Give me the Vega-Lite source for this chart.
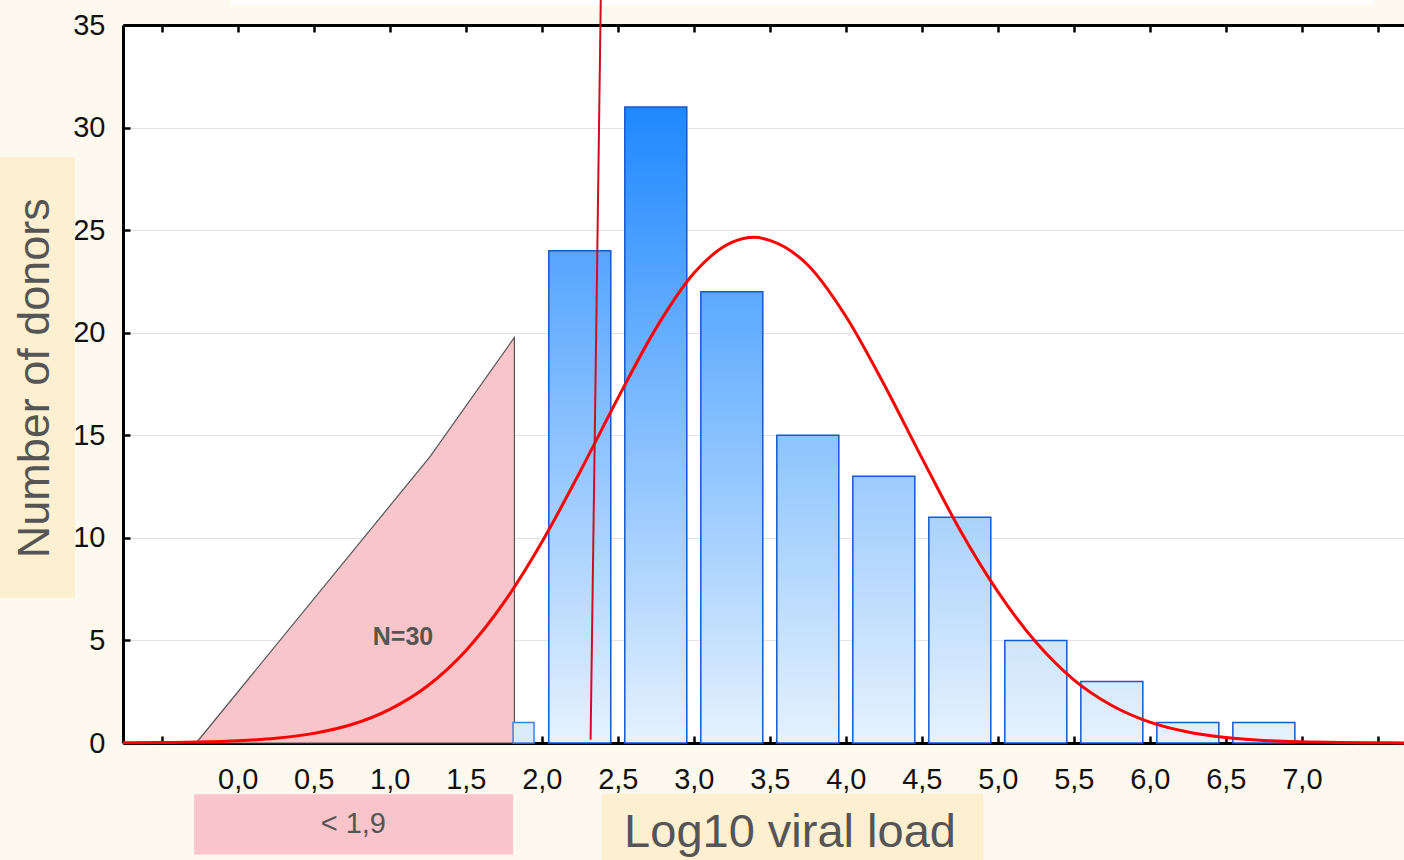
{
  "$schema": "https://vega.github.io/schema/vega-lite/v6.json",
  "width": 1281,
  "height": 718,
  "autosize": {"type": "none"},
  "padding": {"left": 123, "top": 25, "right": 0, "bottom": 117},
  "background": "#fdf9ee",
  "view": {"fill": "white", "stroke": null},
  "config": {"font": "Liberation Sans"},
  "datasets": {
    "bars": [
      {"mid": 2.25, "count": 24},
      {"mid": 2.75, "count": 31},
      {"mid": 3.25, "count": 22},
      {"mid": 3.75, "count": 15},
      {"mid": 4.25, "count": 13},
      {"mid": 4.75, "count": 11},
      {"mid": 5.25, "count": 5},
      {"mid": 5.75, "count": 3},
      {"mid": 6.25, "count": 1},
      {"mid": 6.75, "count": 1}
    ],
    "smallbar": [{"mid": 1.88, "count": 1}],
    "below": [
      {"x": -0.274, "y": 0},
      {"x": 1.266, "y": 13.97},
      {"x": 1.82, "y": 19.77}
    ],
    "curve": [
      {"x": -0.755, "y": 0.007}, {"x": -0.5, "y": 0.019}, {"x": -0.25, "y": 0.046},
      {"x": 0, "y": 0.106}, {"x": 0.25, "y": 0.23}, {"x": 0.5, "y": 0.47},
      {"x": 0.75, "y": 0.9}, {"x": 1.0, "y": 1.64}, {"x": 1.25, "y": 2.79},
      {"x": 1.5, "y": 4.5}, {"x": 1.75, "y": 6.84}, {"x": 2.0, "y": 9.79},
      {"x": 2.25, "y": 13.2}, {"x": 2.5, "y": 16.8}, {"x": 2.75, "y": 20.2},
      {"x": 3.0, "y": 22.9}, {"x": 3.25, "y": 24.4}, {"x": 3.4, "y": 24.65},
      {"x": 3.5, "y": 24.5}, {"x": 3.75, "y": 23.3}, {"x": 4.0, "y": 20.8},
      {"x": 4.25, "y": 17.5}, {"x": 4.5, "y": 13.9}, {"x": 4.75, "y": 10.4},
      {"x": 5.0, "y": 7.38}, {"x": 5.25, "y": 4.92}, {"x": 5.5, "y": 3.08},
      {"x": 5.75, "y": 1.83}, {"x": 6.0, "y": 1.02}, {"x": 6.25, "y": 0.54},
      {"x": 6.5, "y": 0.27}, {"x": 6.75, "y": 0.124}, {"x": 7.0, "y": 0.055},
      {"x": 7.25, "y": 0.023}, {"x": 7.5, "y": 0.009}, {"x": 7.672, "y": 0.004}
    ],
    "cutoff": [{"x1": 2.321, "y1": 0.16, "x2": 2.388, "y2": 36.22}]
  },
  "resolve": {"axis": {"x": "independent", "y": "independent"}},
  "layer": [
    {
      "data": {"values": [{"x1": -1.564, "x2": -1.07, "y1": 7.08, "y2": 28.57}]},
      "mark": {"type": "rect", "clip": false, "fill": "#fcf0d0"},
      "encoding": {
        "x": {"field": "x1", "type": "quantitative", "scale": {"domain": [-0.755, 7.672], "nice": false, "zero": false, "padding": 0}, "axis": null},
        "x2": {"field": "x2"},
        "y": {"field": "y1", "type": "quantitative", "scale": {"domain": [0, 35], "nice": false, "padding": 0}, "axis": null},
        "y2": {"field": "y2"}
      }
    },
    {
      "data": {"values": [{"x1": -0.287, "x2": 1.811, "y1": -2.5, "y2": -5.44}]},
      "mark": {"type": "rect", "clip": false, "fill": "#f9c4ca"},
      "encoding": {
        "x": {"field": "x1", "type": "quantitative", "scale": {"domain": [-0.755, 7.672], "nice": false, "zero": false, "padding": 0}, "axis": null},
        "x2": {"field": "x2"},
        "y": {"field": "y1", "type": "quantitative", "scale": {"domain": [0, 35], "nice": false, "padding": 0}, "axis": null},
        "y2": {"field": "y2"}
      }
    },
    {
      "data": {"values": [{"x1": 2.395, "x2": 4.904, "y1": -2.47, "y2": -5.8}]},
      "mark": {"type": "rect", "clip": false, "fill": "#fcf0d0"},
      "encoding": {
        "x": {"field": "x1", "type": "quantitative", "scale": {"domain": [-0.755, 7.672], "nice": false, "zero": false, "padding": 0}, "axis": null},
        "x2": {"field": "x2"},
        "y": {"field": "y1", "type": "quantitative", "scale": {"domain": [0, 35], "nice": false, "padding": 0}, "axis": null},
        "y2": {"field": "y2"}
      }
    },
    {
      "data": {"values": [{"x1": -0.05, "x2": 7.47, "y1": 35.98, "y2": 36.3}]},
      "mark": {"type": "rect", "clip": false, "fill": "white"},
      "encoding": {
        "x": {"field": "x1", "type": "quantitative", "scale": {"domain": [-0.755, 7.672], "nice": false, "zero": false, "padding": 0}, "axis": null},
        "x2": {"field": "x2"},
        "y": {"field": "y1", "type": "quantitative", "scale": {"domain": [0, 35], "nice": false, "padding": 0}, "axis": null},
        "y2": {"field": "y2"}
      }
    },
    {
      "data": {"name": "below"},
      "mark": {"type": "area", "fill": "#f8c6ca", "stroke": "#555555", "strokeWidth": 1.2},
      "encoding": {
        "x": {"field": "x", "type": "quantitative", "scale": {"domain": [-0.755, 7.672], "nice": false, "zero": false, "padding": 0}, "axis": null},
        "y": {"field": "y", "type": "quantitative", "scale": {"domain": [0, 35], "nice": false, "padding": 0}, "axis": null}
      }
    },
    {
      "data": {"name": "bars"},
      "mark": {"type": "bar", "orient": "vertical", "size": 62, "stroke": null},
      "encoding": {
        "x": {
          "field": "mid", "type": "quantitative",
          "scale": {"domain": [-0.755, 7.672], "nice": false, "zero": false, "padding": 0},
          "axis": {
            "orient": "bottom", "title": null, "grid": false,
            "values": [-0.5, 0, 0.5, 1, 1.5, 2, 2.5, 3, 3.5, 4, 4.5, 5, 5.5, 6, 6.5, 7, 7.5],
            "labelExpr": "datum.value < 0 || datum.value > 7 ? '' : replace(format(datum.value, '.1f'), '.', ',')",
            "labelFontSize": 29, "labelColor": "#111111", "labelPadding": 29,
            "labelFlush": false, "labelOverlap": false, "labelBound": false,
            "tickSize": -7, "tickWidth": 2.5, "tickColor": "#000000",
            "domainColor": "#000000", "domainWidth": 3
          }
        },
        "y": {
          "field": "count", "type": "quantitative",
          "scale": {"domain": [0, 35], "nice": false, "padding": 0},
          "axis": {
            "orient": "left", "title": null, "grid": true, "gridColor": "#e2e2e2", "gridWidth": 1.2,
            "values": [0, 5, 10, 15, 20, 25, 30, 35],
            "labelFontSize": 29, "labelColor": "#111111", "labelPadding": 25,
            "labelFlush": false, "labelOverlap": false, "labelBound": false,
            "tickSize": -7, "tickWidth": 2.5, "tickColor": "#000000",
            "domainColor": "#000000", "domainWidth": 3
          }
        },
        "color": {
          "field": "count", "type": "quantitative", "legend": null,
          "scale": {
            "domain": [0, 5, 13, 15, 22, 24, 31],
            "range": ["#e6f2fe", "#cfe5fb", "#9dcbfd", "#8cc4fd", "#5aa9ff", "#55a5ff", "#1e88ff"]
          }
        }
      }
    },
    {
      "data": {"name": "bars"},
      "mark": {
        "type": "bar", "orient": "vertical", "size": 62,
        "fill": {
          "gradient": "linear", "x1": 0, "y1": 0, "x2": 0, "y2": 1,
          "stops": [
            {"offset": 0, "color": "rgba(230,242,254,0)"},
            {"offset": 1, "color": "rgba(230,242,254,1)"}
          ]
        },
        "stroke": "#1558d0", "strokeWidth": 1.5
      },
      "encoding": {
        "x": {"field": "mid", "type": "quantitative", "scale": {"domain": [-0.755, 7.672], "nice": false, "zero": false, "padding": 0}, "axis": null},
        "y": {"field": "count", "type": "quantitative", "scale": {"domain": [0, 35], "nice": false, "padding": 0}, "axis": null}
      }
    },
    {
      "data": {"name": "smallbar"},
      "mark": {"type": "bar", "orient": "vertical", "size": 21, "fill": "#dcebfc", "stroke": "#3f7fe0", "strokeWidth": 1.5},
      "encoding": {
        "x": {"field": "mid", "type": "quantitative", "scale": {"domain": [-0.755, 7.672], "nice": false, "zero": false, "padding": 0}, "axis": null},
        "y": {"field": "count", "type": "quantitative", "scale": {"domain": [0, 35], "nice": false, "padding": 0}, "axis": null}
      }
    },
    {
      "data": {"name": "curve"},
      "mark": {"type": "line", "color": "#ff0000", "strokeWidth": 3, "interpolate": "monotone"},
      "encoding": {
        "x": {
          "field": "x", "type": "quantitative",
          "scale": {"domain": [-0.755, 7.672], "nice": false, "zero": false, "padding": 0},
          "axis": {
            "orient": "top", "title": null, "grid": false, "labels": false,
            "values": [-0.5, 0, 0.5, 1, 1.5, 2, 2.5, 3, 3.5, 4, 4.5, 5, 5.5, 6, 6.5, 7, 7.5],
            "tickSize": -7, "tickWidth": 2.5, "tickColor": "#000000",
            "domainColor": "#000000", "domainWidth": 3
          }
        },
        "y": {"field": "y", "type": "quantitative", "scale": {"domain": [0, 35], "nice": false, "padding": 0}, "axis": null}
      }
    },
    {
      "data": {"name": "cutoff"},
      "mark": {"type": "rule", "clip": false, "color": "#cc1020", "strokeWidth": 2},
      "encoding": {
        "x": {"field": "x1", "type": "quantitative", "scale": {"domain": [-0.755, 7.672], "nice": false, "zero": false, "padding": 0}, "axis": null},
        "x2": {"field": "x2"},
        "y": {"field": "y1", "type": "quantitative", "scale": {"domain": [0, 35], "nice": false, "padding": 0}, "axis": null},
        "y2": {"field": "y2"}
      }
    },
    {
      "data": {"values": [{"x": 1.087, "y": 5.18, "label": "N=30"}]},
      "mark": {"type": "text", "fontSize": 25, "fontWeight": "bold", "color": "#555555", "align": "center", "baseline": "middle"},
      "encoding": {
        "x": {"field": "x", "type": "quantitative", "scale": {"domain": [-0.755, 7.672], "nice": false, "zero": false, "padding": 0}, "axis": null},
        "y": {"field": "y", "type": "quantitative", "scale": {"domain": [0, 35], "nice": false, "padding": 0}, "axis": null},
        "text": {"field": "label"}
      }
    },
    {
      "data": {"values": [{"x": 0.76, "y": -3.97, "label": "< 1,9"}]},
      "mark": {"type": "text", "clip": false, "fontSize": 29, "color": "#555555", "align": "center", "baseline": "middle"},
      "encoding": {
        "x": {"field": "x", "type": "quantitative", "scale": {"domain": [-0.755, 7.672], "nice": false, "zero": false, "padding": 0}, "axis": null},
        "y": {"field": "y", "type": "quantitative", "scale": {"domain": [0, 35], "nice": false, "padding": 0}, "axis": null},
        "text": {"field": "label"}
      }
    },
    {
      "data": {"values": [{"x": 3.633, "y": -4.38, "label": "Log10 viral load"}]},
      "mark": {"type": "text", "clip": false, "fontSize": 47, "color": "#555555", "align": "center", "baseline": "middle"},
      "encoding": {
        "x": {"field": "x", "type": "quantitative", "scale": {"domain": [-0.755, 7.672], "nice": false, "zero": false, "padding": 0}, "axis": null},
        "y": {"field": "y", "type": "quantitative", "scale": {"domain": [0, 35], "nice": false, "padding": 0}, "axis": null},
        "text": {"field": "label"}
      }
    },
    {
      "data": {"values": [{"x": -1.333, "y": 17.78, "label": "Number of donors"}]},
      "mark": {"type": "text", "clip": false, "fontSize": 45, "angle": 270, "color": "#555555", "align": "center", "baseline": "middle"},
      "encoding": {
        "x": {"field": "x", "type": "quantitative", "scale": {"domain": [-0.755, 7.672], "nice": false, "zero": false, "padding": 0}, "axis": null},
        "y": {"field": "y", "type": "quantitative", "scale": {"domain": [0, 35], "nice": false, "padding": 0}, "axis": null},
        "text": {"field": "label"}
      }
    }
  ]
}
